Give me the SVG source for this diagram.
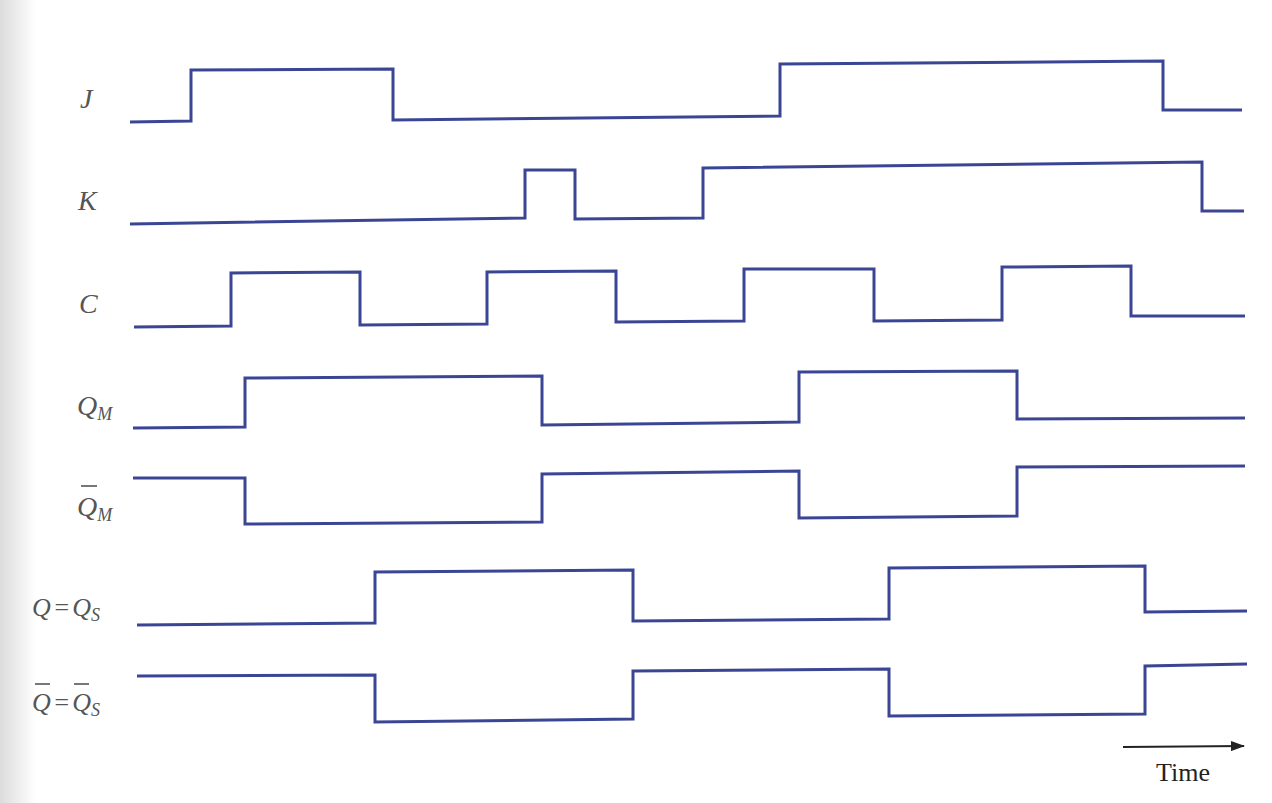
<svg xmlns="http://www.w3.org/2000/svg" width="1272" height="803" viewBox="0 0 1272 803">
<style>
.w{fill:none;stroke:#3a4694;stroke-width:3;stroke-linejoin:miter}
.l{font-family:"Liberation Serif","DejaVu Serif",serif;font-style:italic;font-size:28px;fill:#555}
.e{font-size:26px}
.s{font-size:18px}
.t{font-family:"Liberation Serif","DejaVu Serif",serif;font-size:26px;fill:#222}
.bar{stroke:#555;stroke-width:1.6}
</style>
<defs>
<linearGradient id="edge" x1="0" x2="1" y1="0" y2="0">
<stop offset="0" stop-color="#dcdcdc"/>
<stop offset="1" stop-color="#ffffff"/>
</linearGradient>
<marker id="ah" markerWidth="14" markerHeight="10" refX="13" refY="5" orient="auto" markerUnits="userSpaceOnUse">
<path d="M0,0 L14,5 L0,10 Z" fill="#222"/>
</marker>
</defs>
<rect width="1272" height="803" fill="#fff"/>
<rect width="36" height="803" fill="url(#edge)"/>

<g id="labels">
<g id="label-J"><text class="l" x="80" y="108">J</text></g>
<g id="label-K"><text class="l" x="78" y="210">K</text></g>
<g id="label-C"><text class="l" x="79" y="313">C</text></g>
<g id="label-QM"><text class="l" x="77" y="415">Q<tspan class="s" dy="5">M</tspan></text></g>
<g id="label-QMbar"><text class="l" x="77" y="516">Q<tspan class="s" dy="5">M</tspan></text><line class="bar" x1="81" y1="486" x2="97" y2="486"/></g>
<g id="label-Q"><text class="l e" x="32" y="616">Q<tspan dx="2">=</tspan><tspan dx="2">Q</tspan><tspan class="s" dy="5">S</tspan></text></g>
<g id="label-Qbar"><text class="l e" x="32" y="711">Q<tspan dx="2">=</tspan><tspan dx="2">Q</tspan><tspan class="s" dy="5">S</tspan></text><line class="bar" x1="35" y1="684" x2="50" y2="684"/><line class="bar" x1="74" y1="684" x2="89" y2="684"/></g>
</g>

<g id="waveforms">
<polyline id="J" class="w" points="130,122 191,121 191,70 393,69 393,120 780,116 780,64 1163,61 1163,110 1242,110"/>
<polyline id="K" class="w" points="130,224 525,218 525,170 575,170 575,219 703,218 703,168 1202,162 1202,211 1244,211"/>
<polyline id="C" class="w" points="134,327 231,326 231,273 360,272 360,325 487,324 487,272 616,271 616,322 744,321 744,269 874,269 874,321 1002,320 1002,267 1131,266 1131,316 1245,316"/>
<polyline id="QM" class="w" points="133,428 245,427 245,378 542,376 542,425 799,422 799,372 1017,371 1017,419 1245,418"/>
<polyline id="QMbar" class="w" points="133,478 245,478 245,524 542,522 542,474 799,471 799,518 1017,516 1017,467 1245,466"/>
<polyline id="Q" class="w" points="137,625 375,623 375,572 633,570 633,621 889,619 889,568 1145,566 1145,612 1247,611"/>
<polyline id="Qbar" class="w" points="137,676 375,675 375,722 633,719 633,671 889,669 889,716 1145,714 1145,666 1247,664"/>
</g>

<g id="connectors">
<line x1="1123" y1="747" x2="1244" y2="746" stroke="#222" stroke-width="2" marker-end="url(#ah)"/>
</g>
<g id="time-label"><text class="t" x="1156" y="781">Time</text></g>
</svg>
